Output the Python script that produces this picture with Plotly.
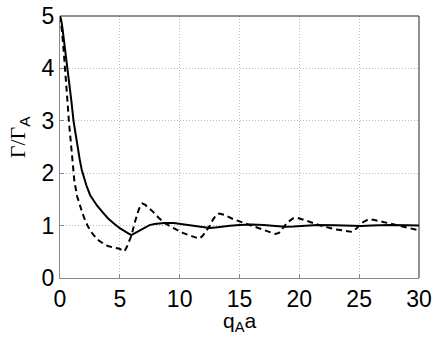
import plotly.graph_objects as go

# solid curve
x_solid = [0, 0.1, 0.2, 0.3, 0.4, 0.52, 0.65, 0.8, 0.95, 1.13, 1.3, 1.5, 1.65, 1.82, 2.0, 2.2,
           2.52, 2.8, 3.1, 3.5, 4.0, 4.5, 5.0, 5.5, 5.95, 6.3, 6.8, 7.2, 7.48, 7.9, 8.3, 8.73,
           9.5, 10.2, 10.8, 11.5, 12.0, 12.5, 13.0, 13.6, 14.2, 15.0, 16.0, 17.0, 18.0, 18.8,
           19.5, 20.5, 21.5, 23.0, 24.5, 25.2, 26.0, 27.5, 29.0, 30.0]
y_solid = [5.0, 4.92, 4.78, 4.6, 4.42, 4.21, 4.0, 3.72, 3.38, 3.0, 2.74, 2.45, 2.26, 2.06, 1.9, 1.77,
           1.58, 1.47, 1.38, 1.27, 1.14, 1.04, 0.95, 0.88, 0.82, 0.86, 0.93, 0.98, 1.01, 1.03, 1.04, 1.05,
           1.05, 1.03, 1.01, 0.98, 0.965, 0.955, 0.965, 0.985, 0.995, 1.01, 1.02, 1.01, 0.99, 0.98,
           0.985, 1.0, 1.01, 1.005, 0.99, 0.99, 1.0, 1.01, 1.005, 1.0]

# dashed curve
x_dash = [0, 0.08, 0.16, 0.25, 0.34, 0.43, 0.6, 0.74, 0.85, 0.95, 1.07, 1.2, 1.43, 1.65, 1.9, 2.1,
          2.32, 2.7, 3.16, 3.6, 4.0, 4.5, 4.97, 5.2, 5.39, 5.6, 5.95, 6.3, 6.6, 6.88, 7.1, 7.4,
          7.75, 8.2, 8.73, 9.5, 10.26, 11.0, 11.65, 11.9, 12.2, 12.5, 12.8, 13.05, 13.3, 13.8,
          14.5, 15.7, 17.0, 17.6, 18.0, 18.3, 18.6, 19.0, 19.5, 19.8, 20.5, 21.9, 23.0, 24.1,
          24.4, 24.8, 25.2, 25.7, 26.2, 27.0, 27.7, 28.7, 29.8, 30.0]
y_dash = [5.0, 4.88, 4.72, 4.5, 4.27, 4.0, 3.45, 3.0, 2.72, 2.45, 2.12, 1.85, 1.56, 1.38, 1.22, 1.1,
          0.99, 0.85, 0.73, 0.66, 0.61, 0.58, 0.56, 0.53, 0.51, 0.6, 0.8, 1.1, 1.32, 1.42, 1.4, 1.34,
          1.27, 1.16, 1.05, 0.95, 0.86, 0.8, 0.75, 0.8, 0.9, 0.99, 1.12, 1.2, 1.23, 1.2,
          1.12, 1.03, 0.92, 0.87, 0.84, 0.86, 0.95, 1.06, 1.14, 1.15, 1.1, 0.99, 0.93, 0.88,
          0.88, 0.95, 1.05, 1.11, 1.11, 1.07, 1.03, 0.97, 0.92, 0.92]

fig = go.Figure()
fig.add_trace(go.Scatter(x=x_dash, y=y_dash, mode='lines',
                         line=dict(color='black', width=2, dash='6px,4px')))
fig.add_trace(go.Scatter(x=x_solid, y=y_solid, mode='lines',
                         line=dict(color='black', width=2)))

axis_common = dict(
    showline=True, linecolor='#888', linewidth=1,
    ticks='inside', ticklen=4, tickcolor='#888',
    showgrid=True, gridcolor='#bdbdbd', griddash='1px,2px', gridwidth=1,
    zeroline=False, automargin=False, ticklabeloverflow='allow',
    tickfont=dict(family='Liberation Sans, Arial', size=23, color='black'),
)

fig.update_layout(
    width=436, height=339,
    margin=dict(l=60, r=17, t=16, b=61),
    paper_bgcolor='white', plot_bgcolor='white',
    showlegend=False,
    xaxis=dict(range=[0, 30], tickvals=[0, 5, 10, 15, 20, 25, 30], **axis_common),
    yaxis=dict(range=[0, 5], tickvals=[0, 1, 2, 3, 4, 5], **axis_common),
    annotations=[
        dict(text='q<sub>A</sub>a', xref='paper', yref='paper', x=0.5, y=-0.11,
             xanchor='center', yanchor='top', showarrow=False,
             font=dict(family='Liberation Sans, Arial', size=21, color='black')),
        dict(text='<span style="font-family:Liberation Serif">Γ/Γ</span><sub>A</sub>',
             xref='paper', yref='paper', x=-0.115, y=0.54, textangle=-90,
             xanchor='center', yanchor='middle', showarrow=False,
             font=dict(family='Liberation Sans, Arial', size=22, color='black')),
    ],
    shapes=[
        dict(type='line', xref='paper', yref='paper', x0=0, x1=1, y0=1, y1=1,
             line=dict(color='#222', width=1)),
        dict(type='line', xref='paper', yref='paper', x0=1, x1=1, y0=0, y1=1,
             line=dict(color='#222', width=1)),
    ],
)

# drop the default body margin so the figure sits at the window corner
fig.write_html("out.html", config={'displayModeBar': False},
               post_script="document.body.style.margin='0';")
